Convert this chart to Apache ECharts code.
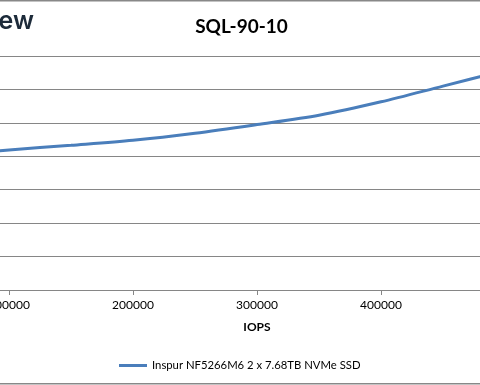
<!DOCTYPE html>
<html>
<head>
<meta charset="utf-8">
<script src="https://cdn.jsdelivr.net/npm/echarts@6/dist/echarts.min.js"></script>
<style>
html,body{margin:0;padding:0;background:#fff;overflow:hidden;width:480px;height:385px;}
#wrap{position:relative;width:480px;height:385px;overflow:hidden;}
#chart{position:absolute;left:-115px;top:0;width:744px;height:385px;}
</style>
</head>
<body>
<div id="wrap"><div id="chart"></div></div>
<script>
// Data
const chartTitle = 'SQL-90-10';
const xAxisName = 'IOPS';
const seriesName = 'Inspur NF5266M6 2 x 7.68TB NVMe SSD';
const iops = [50000, 100000, 150000, 200000, 250000, 300000, 350000, 400000, 450000, 500000];
const latency = [4.02, 4.19, 4.33, 4.48, 4.69, 4.95, 5.23, 5.63, 6.10, 6.57];
const xMin = 0, xMax = 600000, xStep = 100000;
const yMin = 0, yMax = 7, yStep = 1;

const OX = 115; // the visible window starts 115px into the chart canvas
const points = iops.map((x, i) => [x, latency[i]]);
const chart = echarts.init(document.getElementById('chart'));
const font = 'Lato, "Liberation Sans", sans-serif';
chart.setOption({
  animation: false,
  backgroundColor: '#fff',
  grid: { left: 0, right: 0, top: 56, bottom: 95, containLabel: false, outerBoundsMode: 'none' },
  xAxis: {
    type: 'value', min: xMin, max: xMax, interval: xStep,
    name: xAxisName, nameLocation: 'middle', nameGap: 31,
    nameTextStyle: { fontFamily: font, fontWeight: 'bold', fontSize: 12, color: '#000' },
    axisLine: { lineStyle: { color: '#868686', width: 1 } },
    axisTick: { show: true, length: 5, lineStyle: { color: '#868686' } },
    axisLabel: { fontFamily: font, fontSize: 12, color: '#000', margin: 9,
      formatter: v => String(v) },
    splitLine: { show: false }
  },
  yAxis: {
    type: 'value', min: yMin, max: yMax, interval: yStep,
    axisLine: { show: false }, axisTick: { show: false },
    axisLabel: { show: false },
    splitLine: { lineStyle: { color: '#868686', width: 1 } }
  },
  legend: {
    data: [seriesName], top: 360, left: OX + 119, padding: 0,
    icon: 'rect', itemWidth: 28, itemHeight: 3, itemGap: 3,
    textStyle: { fontFamily: font, fontSize: 11.3, color: '#000' }
  },
  series: [{
    name: seriesName, type: 'line', data: points, smooth: 0.3,
    symbol: 'none', lineStyle: { color: '#4a7ebb', width: 3 },
    itemStyle: { color: '#4a7ebb' }
  }],
  graphic: [
    { type: 'text', x: OX + 241.5, y: 27,
      style: { text: chartTitle, font: 'bold 19px Lato, sans-serif', fill: '#000',
        align: 'center', verticalAlign: 'middle' } },
    { type: 'text', x: OX + 34, y: 34,
      style: { text: 'StorageReview', font: '600 25px Inter, sans-serif', fill: '#1d2b3a',
        align: 'right', verticalAlign: 'bottom' } },
    { type: 'line', shape: { x1: 0, y1: 0.75, x2: 744, y2: 0.75 }, style: { stroke: '#888', lineWidth: 1.5 } },
    { type: 'line', shape: { x1: 0, y1: 383.75, x2: 744, y2: 383.75 }, style: { stroke: '#888', lineWidth: 1.5 } }
  ]
});
</script>
</body>
</html>
